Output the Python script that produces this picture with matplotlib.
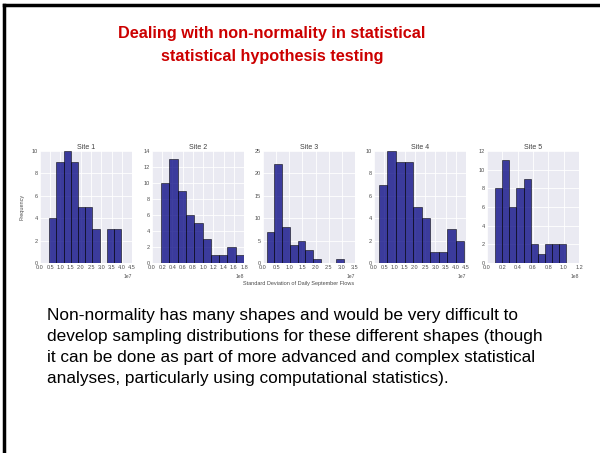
import numpy as np
import matplotlib
matplotlib.use('Agg')
import matplotlib.pyplot as plt
from matplotlib.lines import Line2D

# histogram counts per site (10 bins each), bin range in data units
sites = ['Site 1', 'Site 2', 'Site 3', 'Site 4', 'Site 5']
counts = [
    [4, 9, 10, 9, 5, 5, 3, 0, 3, 3],
    [10, 13, 9, 6, 5, 3, 1, 1, 2, 1],
    [7, 22, 8, 4, 5, 3, 1, 0, 0, 1],
    [7, 10, 9, 9, 5, 4, 1, 1, 3, 2],
    [8, 11, 6, 8, 9, 2, 1, 2, 2, 2],
]
bin_lo = [0.45e7, 0.18e8, 0.14e7, 0.24e7, 0.107e8]
bin_hi = [3.97e7, 1.80e8, 3.08e7, 4.42e7, 1.03e8]
x_max = [4.5e7, 1.8e8, 3.5e7, 4.5e7, 1.2e8]
x_step = [0.5e7, 0.2e8, 0.5e7, 0.5e7, 0.2e8]
y_max = [10, 14, 25, 10, 12]
y_step = [2, 2, 5, 2, 2]

title = 'Dealing with non-normality in statistical\nstatistical hypothesis testing'
body = ('Non-normality has many shapes and would be very difficult to\n'
        'develop sampling distributions for these different shapes (though\n'
        'it can be done as part of more advanced and complex statistical\n'
        'analyses, particularly using computational statistics).')

plt.rcParams['font.family'] = ['Liberation Sans', 'DejaVu Sans']

W, H = 600, 453
fig = plt.figure(figsize=(W / 100, H / 100), dpi=100)
fig.patch.set_facecolor('white')

# slide frame (top and left edges)
fig.add_artist(Line2D([4 / W, 1], [1 - 5 / H, 1 - 5 / H], color='black', lw=2.5))
fig.add_artist(Line2D([4 / W, 4 / W], [0, 1 - 5 / H], color='black', lw=2.5))

fig.text(272 / W, 1 - 45 / H, title, ha='center', va='center', color='#cc0000',
         fontsize=11.7, fontweight='bold', linespacing=1.6)
fig.text(47 / W, 1 - 347 / H, body, ha='left', va='center', color='black',
         fontsize=12.4, linespacing=1.52)

lefts = [40, 152, 263, 374, 487]
ax_w, ax_top, ax_bot = 92, 151, 263
for i, name in enumerate(sites):
    ax = fig.add_axes([lefts[i] / W, 1 - ax_bot / H, ax_w / W, (ax_bot - ax_top) / H])
    ax.set_facecolor('#EAEAF2')
    edges = np.linspace(bin_lo[i], bin_hi[i], len(counts[i]) + 1)
    ax.bar(edges[:-1], counts[i], width=np.diff(edges), align='edge',
           color='navy', alpha=0.75, edgecolor='black', linewidth=0.5, zorder=2)
    ax.set_xlim(0, x_max[i])
    ax.set_ylim(0, y_max[i])
    ax.set_xticks(np.arange(0, x_max[i] + x_step[i] / 2, x_step[i]))
    ax.set_yticks(np.arange(0, y_max[i] + 1, y_step[i]))
    ax.grid(True, color='white', lw=0.6, zorder=0)
    ax.set_axisbelow(True)
    for s in ax.spines.values():
        s.set_visible(False)
    ax.tick_params(length=0, labelsize=4, labelcolor='0.3', pad=1.5)
    ax.xaxis.get_offset_text().set_fontsize(3.6)
    ax.xaxis.get_offset_text().set_color('0.3')
    ax.set_title(name, fontsize=5, color='0.25', pad=1.5)
    if i == 0:
        ax.set_ylabel('Frequency', fontsize=4, color='0.3', labelpad=5)

fig.text(299 / W, 1 - 283 / H, 'Standard Deviation of Daily September Flows',
         ha='center', va='center', fontsize=4, color='0.3')

fig.savefig('out.png', dpi=100, facecolor='white')
